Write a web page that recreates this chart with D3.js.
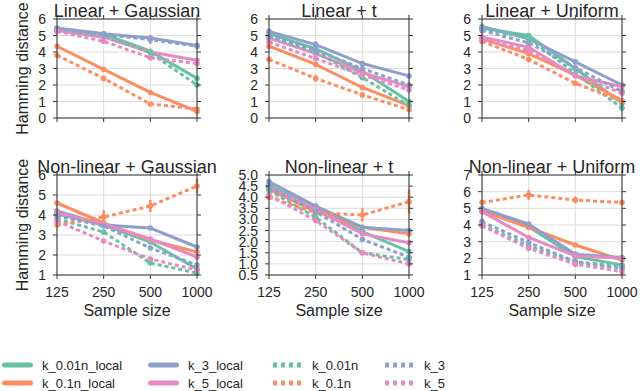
<!DOCTYPE html>
<html>
<head>
<meta charset="utf-8">
<script src="https://cdn.jsdelivr.net/npm/d3@7"></script>
<style>
    body { margin: 0; background: #fff; }
    svg { font-family: "Liberation Sans", Arial, sans-serif; }
    .grid line { stroke: #dcdcdc; stroke-width: 1; }
    .frame { fill: none; stroke: #333; stroke-width: 1; }
    .tick-mark { stroke: #333; stroke-width: 1; }
    .tick-label { fill: #262626; font-size: 14px; }
</style>
</head>
<body>
<div id="chart"></div>
<script>
var sampleSizes = [125, 250, 500, 1000];
var seriesNames = ["k_0.01n_local", "k_0.1n_local", "k_3_local", "k_5_local", "k_0.01n", "k_0.1n", "k_3", "k_5"];
var seriesColors = ["#66c2a5", "#fc8d62", "#8da0cb", "#e78ac3", "#66c2a5", "#fc8d62", "#8da0cb", "#e78ac3"];
var seriesDashed = [false, false, false, false, true, true, true, true];

var panelTitles = ["Linear + Gaussian", "Linear + t", "Linear + Uniform",
                   "Non-linear + Gaussian", "Non-linear + t", "Non-linear + Uniform"];
var panelYDomains = [[0, 6], [0, 6], [0, 6], [1, 6], [0.5, 5], [1, 7]];
var panelYTicks = [
    [0, 1, 2, 3, 4, 5, 6],
    [0, 1, 2, 3, 4, 5, 6],
    [0, 1, 2, 3, 4, 5, 6],
    [1, 2, 3, 4, 5, 6],
    [0.5, 1.0, 1.5, 2.0, 2.5, 3.0, 3.5, 4.0, 4.5, 5.0],
    [1, 2, 3, 4, 5, 6, 7]
];

// one row per series, in seriesNames order
var linearGaussian = [
    [5.4, 5.1, 4.05, 2.4],
    [4.35, 2.95, 1.55, 0.4],
    [5.45, 5.1, 4.85, 4.4],
    [5.3, 4.9, 4.0, 3.5],
    [5.35, 5.0, 3.95, 2.0],
    [3.8, 2.4, 0.85, 0.55],
    [5.4, 5.05, 4.75, 4.35],
    [5.25, 4.65, 3.65, 3.3]
];
var linearT = [
    [5.1, 4.2, 2.85, 1.0],
    [4.35, 3.25, 1.85, 0.75],
    [5.25, 4.45, 3.3, 2.55],
    [4.85, 3.9, 2.75, 1.9],
    [4.95, 4.0, 2.45, 0.75],
    [3.55, 2.4, 1.4, 0.5],
    [5.0, 4.1, 3.0, 2.0],
    [4.6, 3.6, 2.6, 1.7]
];
var linearUniform = [
    [5.45, 5.0, 3.0, 0.9],
    [4.8, 3.9, 2.6, 1.05],
    [5.55, 4.8, 3.4, 2.0],
    [4.9, 4.3, 2.55, 1.9],
    [5.4, 4.85, 2.7, 0.6],
    [4.65, 3.55, 2.1, 1.0],
    [5.3, 4.55, 3.05, 1.6],
    [4.75, 4.1, 2.6, 1.5]
];
var nonlinearGaussian = [
    [4.05, 3.5, 2.65, 1.3],
    [4.6, 3.6, 2.75, 2.15],
    [4.2, 3.5, 3.35, 2.4],
    [4.1, 3.55, 2.8, 1.9],
    [3.8, 3.15, 1.6, 1.1],
    [3.5, 3.9, 4.45, 5.45],
    [3.95, 3.45, 2.35, 1.5],
    [3.7, 2.7, 1.8, 1.25]
];
var nonlinearT = [
    [4.55, 3.5, 2.45, 1.55],
    [4.35, 3.35, 2.65, 2.35],
    [4.7, 3.6, 2.65, 2.5],
    [4.45, 3.45, 2.35, 1.95],
    [4.3, 3.1, 1.5, 1.2],
    [4.0, 3.3, 3.2, 3.8],
    [4.45, 3.35, 2.1, 1.3],
    [4.1, 2.95, 1.5, 1.0]
];
var nonlinearUniform = [
    [4.9, 3.9, 2.1, 1.6],
    [4.85, 3.85, 2.8, 1.9],
    [5.0, 4.05, 2.25, 2.05],
    [4.8, 3.25, 2.15, 2.0],
    [4.0, 2.75, 1.75, 1.4],
    [5.35, 5.8, 5.5, 5.35],
    [4.2, 2.95, 1.8, 1.5],
    [3.95, 2.6, 1.65, 1.2]
];
var panelValues = [linearGaussian, linearT, linearUniform, nonlinearGaussian, nonlinearT, nonlinearUniform];

// error bar half-widths: default, plus the larger ones [panel, series, point, err]
var defaultErr = 0.1;
var largeErrs = [
    [0, 6, 2, 0.25], [1, 2, 1, 0.2], [1, 5, 1, 0.2],
    [3, 5, 1, 0.35], [3, 5, 2, 0.3], [3, 5, 3, 0.35],
    [4, 5, 2, 0.3], [4, 5, 3, 0.55],
    [5, 5, 1, 0.3], [5, 5, 2, 0.2]
];

var width = 640,
    height = 391,
    colX = [57, 269, 482],
    rowY = [19, 175],
    plotW = 140,
    plotH = 100;

/**
 * Looks up the error bar size of one point
 */
function getErr(p, s, i) {
    var hit = largeErrs.filter(function(e) { return e[0] === p && e[1] === s && e[2] === i; });
    return hit.length ? hit[0][3] : defaultErr;
}

/**
 * Draws one facet
 *
 * @param {Selection} svg
 * @param {Number} p panel index
 */
function drawPanel(svg, p) {
    var col = p % 3, row = Math.floor(p / 3);
    var g = svg.append("g")
        .attr("class", "panel")
        .attr("transform", "translate(" + colX[col] + "," + rowY[row] + ")");

    var x = d3.scaleLog().base(2)
        .domain([125, 1000])
        .range([0, plotW]);
    var y = d3.scaleLinear()
        .domain(panelYDomains[p])
        .range([plotH - (row === 0 ? 1 : 0), 0]);
    var h = y.range()[0];
    var yTicks = panelYTicks[p];

    /* Grid */
    var grid = g.append("g").attr("class", "grid");
    grid.selectAll(".gx").data(sampleSizes).enter().append("line")
        .attr("x1", function(d) { return x(d); }).attr("x2", function(d) { return x(d); })
        .attr("y1", 0).attr("y2", h);
    grid.selectAll(".gy").data(yTicks).enter().append("line")
        .attr("x1", 0).attr("x2", plotW)
        .attr("y1", function(d) { return y(d); }).attr("y2", function(d) { return y(d); });

    /* Series */
    var line = d3.line()
        .x(function(d) { return x(d[0]); })
        .y(function(d) { return y(d[1]); });

    panelValues[p].forEach(function(vals, s) {
        var pts = vals.map(function(v, i) { return [sampleSizes[i], v]; });
        g.append("path")
            .datum(pts)
            .attr("d", line)
            .attr("fill", "none")
            .attr("stroke", seriesColors[s])
            .attr("stroke-width", 3)
            .attr("stroke-dasharray", seriesDashed[s] ? "4,3" : null);
        g.selectAll(".eb" + s).data(pts).enter().append("line")
            .attr("x1", function(d) { return x(d[0]); })
            .attr("x2", function(d) { return x(d[0]); })
            .attr("y1", function(d, i) { return y(d[1] - getErr(p, s, i)); })
            .attr("y2", function(d, i) { return y(d[1] + getErr(p, s, i)); })
            .attr("stroke", seriesColors[s])
            .attr("stroke-width", 2.5);
        g.selectAll(".pt" + s).data(pts).enter().append("circle")
            .attr("cx", function(d) { return x(d[0]); })
            .attr("cy", function(d) { return y(d[1]); })
            .attr("r", 2.8)
            .attr("fill", seriesColors[s]);
    });

    /* Frame & ticks */
    g.append("rect")
        .attr("class", "frame")
        .attr("x", 0).attr("y", 0)
        .attr("width", plotW).attr("height", h);

    var ticks = g.append("g");
    yTicks.forEach(function(t) {
        ticks.append("line").attr("class", "tick-mark")
            .attr("x1", -4).attr("x2", 0).attr("y1", y(t)).attr("y2", y(t));
        ticks.append("line").attr("class", "tick-mark")
            .attr("x1", plotW).attr("x2", plotW + 4).attr("y1", y(t)).attr("y2", y(t));
        ticks.append("text").attr("class", "tick-label")
            .attr("x", -11).attr("y", y(t))
            .attr("dy", "0.36em")
            .attr("text-anchor", "end")
            .text(p === 4 ? d3.format(".1f")(t) : t);
    });
    sampleSizes.forEach(function(t) {
        ticks.append("line").attr("class", "tick-mark")
            .attr("x1", x(t)).attr("x2", x(t)).attr("y1", h).attr("y2", h + 4);
        ticks.append("line").attr("class", "tick-mark")
            .attr("x1", x(t)).attr("x2", x(t)).attr("y1", -4).attr("y2", 0);
        if (row === 1) {
            ticks.append("text").attr("class", "tick-label")
                .attr("x", x(t)).attr("y", h + 22)
                .attr("text-anchor", "middle")
                .text(t);
        }
    });

    /* Labels */
    g.append("text")
        .attr("x", plotW / 2).attr("y", -2)
        .attr("text-anchor", "middle")
        .attr("font-size", 18)
        .attr("fill", "#262626")
        .text(panelTitles[p]);

    if (row === 1) {
        g.append("text")
            .attr("x", plotW / 2).attr("y", h + 41)
            .attr("text-anchor", "middle")
            .attr("font-size", 16)
            .attr("fill", "#262626")
            .text("Sample size");
    }
    if (col === 0) {
        g.append("text")
            .attr("transform", "translate(" + (28 - colX[0]) + "," + (h / 2) + ") rotate(-90)")
            .attr("text-anchor", "middle")
            .attr("font-size", 16)
            .attr("fill", "#262626")
            .text("Hamming distance");
    }
}

/**
 * Draws the legend under the facets
 */
function drawLegend(svg) {
    var legX = [2, 148, 273, 385],
        legY = [365, 383];
    var leg = svg.append("g").attr("class", "legend");
    seriesNames.forEach(function(name, s) {
        var cx = legX[Math.floor(s / 2)], cy = legY[s % 2];
        leg.append("line")
            .attr("x1", seriesDashed[s] ? cx : cx + 2.5)
            .attr("x2", seriesDashed[s] ? cx + 28 : cx + 28.5)
            .attr("y1", cy).attr("y2", cy)
            .attr("stroke", seriesColors[s])
            .attr("stroke-width", 5)
            .attr("stroke-linecap", seriesDashed[s] ? "butt" : "round")
            .attr("stroke-dasharray", seriesDashed[s] ? "4,4" : null);
        leg.append("text")
            .attr("x", cx + (seriesDashed[s] ? 39 : 40))
            .attr("y", cy)
            .attr("dy", "0.35em")
            .attr("font-size", 13)
            .attr("fill", "#262626")
            .text(name);
    });
}

var svg = d3.select("#chart")
    .append("svg")
        .attr("width", width)
        .attr("height", height);

d3.range(6).forEach(function(p) { drawPanel(svg, p); });
drawLegend(svg);
</script>
</body>
</html>
